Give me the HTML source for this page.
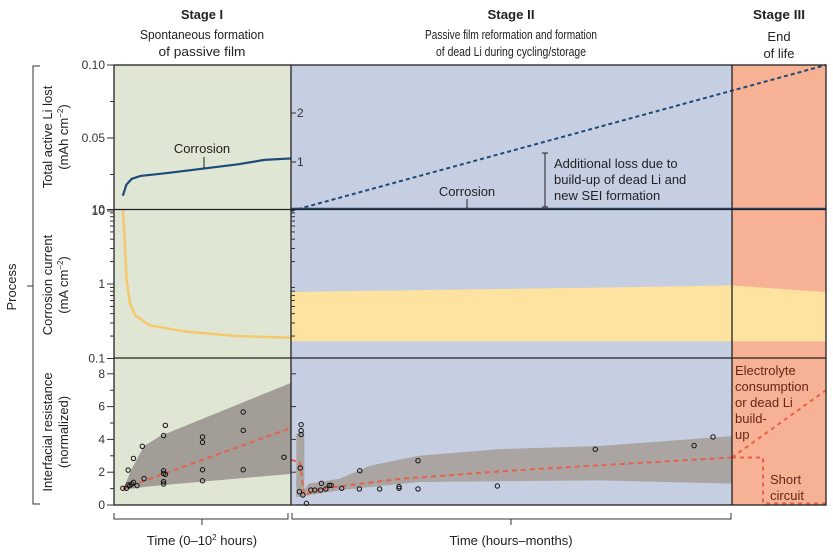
<!DOCTYPE html>
<html><head><meta charset="utf-8"><style>
html,body{margin:0;padding:0;background:#fff;}
svg{display:block;font-family:"Liberation Sans",sans-serif;}
</style></head><body>
<svg id="chart" width="833" height="555" viewBox="0 0 833 555" xmlns="http://www.w3.org/2000/svg">
<g id="bg">
<rect x="114" y="65" width="177" height="440" fill="#dfe6d3"/>
<rect x="291" y="65" width="441" height="440" fill="#c6cee2"/>
<rect x="732" y="65" width="94" height="440" fill="#f7b194"/>
</g>
<g id="marks"></g>
<g id="frame" fill="none" stroke="#222" stroke-width="1.3">
<rect x="114" y="65" width="712" height="440"/>
<line x1="114" y1="209.5" x2="826" y2="209.5"/>
<line x1="114" y1="358" x2="826" y2="358"/>
<line x1="291" y1="65" x2="291" y2="505"/>
<line x1="732" y1="65" x2="732" y2="505"/>
</g>
<g id="axes" font-size="12" fill="#333"></g>
<g fill="#222" text-anchor="middle">
<text x="202" y="19" font-size="13" font-weight="bold" textLength="42" lengthAdjust="spacingAndGlyphs">Stage I</text>
<text x="202" y="39" font-size="13" textLength="124" lengthAdjust="spacingAndGlyphs">Spontaneous formation</text>
<text x="202" y="56" font-size="13" textLength="87" lengthAdjust="spacingAndGlyphs">of passive film</text>
<text x="511" y="19" font-size="13" font-weight="bold" textLength="47" lengthAdjust="spacingAndGlyphs">Stage II</text>
<text x="511" y="39" font-size="13" textLength="172" lengthAdjust="spacingAndGlyphs">Passive film reformation and formation</text>
<text x="511" y="56" font-size="13" textLength="150" lengthAdjust="spacingAndGlyphs">of dead Li during cycling/storage</text>
<text x="779" y="19" font-size="13" font-weight="bold" textLength="52" lengthAdjust="spacingAndGlyphs">Stage III</text>
<text x="779" y="41" font-size="13">End</text>
<text x="779" y="58" font-size="13">of life</text>
</g>
<g fill="#222" font-size="13" text-anchor="middle">
<text transform="translate(16,287) rotate(-90)">Process</text>
<path d="M40 66 H33 V504 H40 M33 286 H27" fill="none" stroke="#333" stroke-width="1"/>
<text transform="translate(52,137) rotate(-90)">Total active Li lost</text>
<text transform="translate(68,137) rotate(-90)">(mAh cm<tspan font-size="8" dy="-5">−2</tspan><tspan dy="5">)</tspan></text>
<text transform="translate(52,285) rotate(-90)">Corrosion current</text>
<text transform="translate(68,285) rotate(-90)">(mA cm<tspan font-size="8" dy="-5">−2</tspan><tspan dy="5">)</tspan></text>
<text transform="translate(52,432) rotate(-90)">Interfacial resistance</text>
<text transform="translate(68,432) rotate(-90)">(normalized)</text>
</g>
<g fill="none" stroke="#333" stroke-width="1">
<path d="M114 513 V519 H288 V513 M202 519 V525"/>
<path d="M292 513 V519 H731 V513 M511 519 V525"/>
</g>
<text x="202" y="545" font-size="13" fill="#222" text-anchor="middle">Time (0–10<tspan font-size="8" dy="-5">2</tspan><tspan dy="5"> hours)</tspan></text>
<text x="511" y="545" font-size="13" fill="#222" text-anchor="middle">Time (hours–months)</text>
<g fill="#222" font-size="13">
<text x="202" y="153" text-anchor="middle">Corrosion</text>
<line x1="204" y1="157" x2="204" y2="168" stroke="#222"/>
<text x="467" y="196" text-anchor="middle">Corrosion</text>
<line x1="467" y1="199" x2="467" y2="208" stroke="#222"/>
<path d="M542 153 H548 M545 153 V207 M542 207 H548" stroke="#222" fill="none"/>
<text x="554" y="168">Additional loss due to</text>
<text x="554" y="184">build-up of dead Li and</text>
<text x="554" y="200">new SEI formation</text>
</g>
<g fill="#6b2416" font-size="13">
<text x="735" y="375">Electrolyte</text>
<text x="735" y="391">consumption</text>
<text x="735" y="407">or dead Li</text>
<text x="735" y="423">build-</text>
<text x="735" y="439">up</text>
<text x="770" y="484">Short</text>
<text x="770" y="500">circuit</text>
</g>
</svg>
<script>
// Top panel: total Li lost (mAh cm^-2), stage I corrosion curve; x in hours-fraction of stage I
const liLostX = [0.05, 0.07, 0.1, 0.15, 0.3, 0.5, 0.7, 0.85, 1.0];
const liLostY = [0.0105, 0.018, 0.022, 0.024, 0.026, 0.029, 0.032, 0.035, 0.036];
// Stage II: corrosion level flat, dead Li line rises (fraction of stage II/III span)
const corrosionFlat = [0.0015, 0.0015];
const deadLiX = [0, 1];
const deadLiY = [0.0, 0.10];
// Middle panel: corrosion current (log) stage I
const currentX = [0.05, 0.06, 0.07, 0.09, 0.12, 0.2, 0.4, 0.7, 1.0];
const currentY = [10, 4, 1.2, 0.55, 0.38, 0.28, 0.23, 0.2, 0.19];
// stage II/III band (fraction of stage II+III span), upper/lower
const bandX = [0, 0.3, 0.6, 0.82, 1.0];
const bandUpper = [0.78, 0.84, 0.9, 0.96, 0.78];
const bandLower = [0.17, 0.17, 0.17, 0.17, 0.17];
// Bottom panel: interfacial resistance points, stage I (x fraction) / stage II (x fraction)
const res1X = [0.05,0.07,0.08,0.1,0.11,0.13,0.09,0.08,0.11,0.16,0.17,0.28,0.29,0.28,0.29,0.28,0.28,0.28,0.5,0.5,0.5,0.5,0.73,0.73,0.73,0.96];
const res1Y = [1.02,1.02,1.22,1.28,1.38,1.18,1.18,2.13,2.84,3.58,1.61,4.23,4.86,2.09,1.87,1.93,1.42,1.28,4.15,3.82,2.15,1.48,5.67,4.55,2.15,2.91];
const res2X = [0.023,0.023,0.023,0.021,0.019,0.027,0.035,0.045,0.054,0.067,0.069,0.079,0.087,0.091,0.115,0.155,0.156,0.201,0.245,0.245,0.288,0.288,0.468,0.69,0.914,0.957];
const res2Y = [4.9,4.53,4.3,2.26,0.81,0.61,0.1,0.91,0.91,0.91,1.32,0.98,1.2,1.2,1.02,0.98,2.09,0.98,1.02,1.12,0.98,2.7,1.16,3.4,3.62,4.15,1.26].slice(0,26);
const band1X = [0.05, 0.1, 0.17, 0.26, 1.0];
const band1Up = [0.9, 2.2, 3.6, 4.2, 7.45];
const band1Lo = [0.9, 1.0, 1.1, 1.2, 1.9];
const band2X = [0.02, 0.04, 0.11, 0.18, 0.29, 0.47, 0.7, 1.0];
const band2Up = [0.6, 1.3, 1.6, 2.4, 3.0, 3.4, 3.6, 4.2];
const band2Lo = [0.5, 0.6, 0.9, 1.1, 1.4, 1.45, 1.5, 1.3];
const trend1X = [0.05, 1.0];
const trend1Y = [1.0, 4.7];
const trend2X = [0, 0.02, 0.03, 0.07, 0.25, 0.5, 1.0];
const trend2Y = [2.75, 2.6, 0.6, 1.0, 1.6, 2.1, 2.9];
const topTicks = ["0.10","0.05","10"];
const midTicks = ["10","1","0.1"];
const botTicks = [0,2,4,6,8];
const stage2Ticks = [1,2];

const NS="http://www.w3.org/2000/svg";
const marks=document.getElementById('marks');
const axes=document.getElementById('axes');
const x1=f=>114+f*177, x2=f=>291+f*441, x23=f=>291+f*535;
const yTop=v=>211-v*1460;
const yMid=v=>284-Math.log10(v)*74.5;
const yBot=v=>505-v*16.4;
function mk(tag,attrs,parent){const e=document.createElementNS(NS,tag);for(const k in attrs)e.setAttribute(k,attrs[k]);(parent||marks).appendChild(e);return e;}
function pts(xs,ys,fx,fy){return xs.map((x,i)=>fx(x)+','+fy(ys[i])).join(' ');}
function band(xs,up,lo,fx,fy){return xs.map((x,i)=>fx(x)+','+fy(up[i])).concat(xs.slice().reverse().map((x,i)=>fx(x)+','+fy(lo[lo.length-1-i]))).join(' ');}

// middle band
let e=mk('polygon',{points:band(bandX,bandUpper,bandLower,x23,yMid),fill:'#fde2a0'});


e=mk('polyline',{points:pts(currentX,currentY,x1,yMid),fill:'none',stroke:'#f6c86e','stroke-width':2.5});


// top
e=mk('polyline',{points:pts(liLostX,liLostY,x1,yTop),fill:'none',stroke:'#1d4a78','stroke-width':2.2});


e=mk('line',{x1:291,x2:826,y1:yTop(corrosionFlat[0]),y2:yTop(corrosionFlat[1]),stroke:'#1d4a78','stroke-width':2.2});


e=mk('polyline',{points:pts(deadLiX,deadLiY,x23,yTop),fill:'none',stroke:'#1d4a78','stroke-width':2,'stroke-dasharray':'4 3'});


// bottom bands
e=mk('polygon',{points:band(band1X,band1Up,band1Lo,x1,yBot),fill:'#a39d98'});


e=mk('polygon',{points:band(band2X,band2Up,band2Lo,x2,yBot),fill:'#aaa4a2'});


e=mk('rect',{x:x2(0.012),y:yBot(4.35),width:8,height:yBot(0.5)-yBot(4.35),fill:'#aaa4a2'});


e=mk('polyline',{points:pts(trend1X,trend1Y,x1,yBot),fill:'none',stroke:'#e8604a','stroke-width':2,'stroke-dasharray':'5 4'});


e=mk('polyline',{points:pts(trend2X,trend2Y,x2,yBot),fill:'none',stroke:'#e8604a','stroke-width':2,'stroke-dasharray':'5 4'});


e=mk('polyline',{points:'732,'+yBot(2.9)+' 826,'+yBot(7.0),fill:'none',stroke:'#e8604a','stroke-width':2,'stroke-dasharray':'4 4'});


e=mk('polyline',{points:'732,'+yBot(2.9)+' 763,'+yBot(2.9)+' 763,'+yBot(0.1)+' 826,'+yBot(0.1),fill:'none',stroke:'#e8604a','stroke-width':2,'stroke-dasharray':'4 4'});


res1X.forEach((x,i)=>{const c=mk('circle',{cx:x1(x),cy:yBot(res1Y[i]),r:2.2,fill:'none',stroke:'#111','stroke-width':1});

});
res2X.forEach((x,i)=>{const c=mk('circle',{cx:x2(x),cy:yBot(res2Y[i]),r:2.2,fill:'none',stroke:'#111','stroke-width':1});

});

// axes
const tickVals=[0.10,0.05,0];
topTicks.forEach((t,i)=>{const y=yTop(tickVals[i]);mk('line',{x1:107,x2:114,y1:y,y2:y,stroke:'#333'},axes);
const tx=mk('text',{x:105,y:y+4,'text-anchor':'end'},axes);tx.textContent=t;

});
[0.075,0.025].forEach(v=>{mk('line',{x1:110,x2:114,y1:yTop(v),y2:yTop(v),stroke:'#333'},axes);});
const midVals=[10,1,0.1];
midTicks.forEach((t,i)=>{const y=yMid(midVals[i]);mk('line',{x1:107,x2:114,y1:y,y2:y,stroke:'#333'},axes);
const tx=mk('text',{x:105,y:y+4,'text-anchor':'end'},axes);tx.textContent=t;

});
for(const d of [0.1,1])for(let k=2;k<10;k++){const y=yMid(d*k);mk('line',{x1:110,x2:114,y1:y,y2:y,stroke:'#333'},axes);mk('line',{x1:291,x2:295,y1:y,y2:y,stroke:'#333'},axes);}
botTicks.forEach(v=>{const y=yBot(v);mk('line',{x1:107,x2:114,y1:y,y2:y,stroke:'#333'},axes);mk('line',{x1:291,x2:296,y1:y,y2:y,stroke:'#333'},axes);
const tx=mk('text',{x:105,y:y+4,'text-anchor':'end'},axes);tx.textContent=v;

});
[1,3,5,7].forEach(v=>{mk('line',{x1:110,x2:114,y1:yBot(v),y2:yBot(v),stroke:'#333'},axes);});
stage2Ticks.forEach(v=>{const y=211-v*49;mk('line',{x1:291,x2:296,y1:y,y2:y,stroke:'#333'},axes);
const tx=mk('text',{x:297,y:y+4},axes);tx.textContent=v;

});
</script>
</body></html>
